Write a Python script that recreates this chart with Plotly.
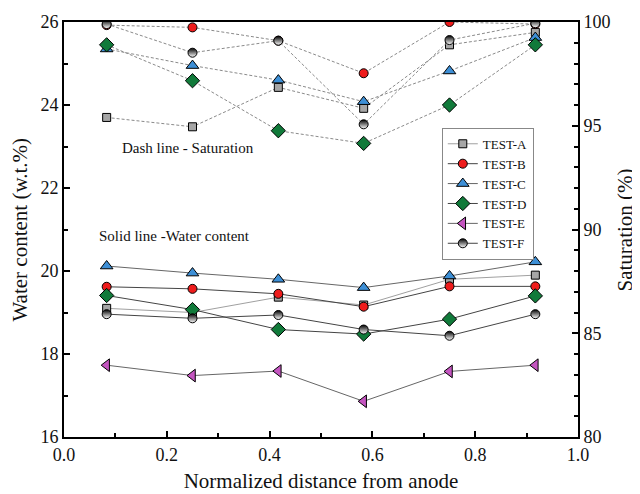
import plotly.graph_objects as go

# Normalized distance from anode
distance = [0.083, 0.25, 0.417, 0.583, 0.75, 0.917]

tests = ["TEST-A", "TEST-B", "TEST-C", "TEST-D", "TEST-E", "TEST-F"]

# Water content (w.t.%) - solid lines
water_A = [19.10, 19.00, 19.37, 19.18, 19.80, 19.90]
water_B = [19.62, 19.57, 19.45, 19.14, 19.63, 19.63]
water_C = [20.12, 19.95, 19.80, 19.60, 19.88, 20.22]
water_D = [19.41, 19.07, 18.59, 18.48, 18.84, 19.40]
water_E = [17.73, 17.48, 17.59, 16.86, 17.58, 17.73]
water_F = [18.96, 18.86, 18.94, 18.59, 18.44, 18.96]

# Saturation (%) - dashed lines (TEST-E has none)
sat_A = [95.40, 94.95, 96.85, 95.84, 98.90, 99.50]
sat_B = [99.85, 99.74, 99.10, 97.53, 100.0, 99.90]
sat_C = [98.70, 97.90, 97.20, 96.16, 97.64, 99.25]
sat_D = [98.90, 97.17, 94.76, 94.15, 96.00, 98.90]
sat_F = [99.90, 98.52, 99.10, 95.07, 99.13, 99.94]

left_ticks = [16, 18, 20, 22, 24, 26]
right_ticks = [80, 85, 90, 95, 100]

water = [water_A, water_B, water_C, water_D, water_E, water_F]
sat = [sat_A, sat_B, sat_C, sat_D, None, sat_F]

styles = [
    dict(symbol="square", color="#a6a6a6", size=8, line="#a0a0a0", grad=None),
    dict(symbol="circle", color="#ee1c1c", size=9, line="#444444", grad=None),
    dict(symbol="triangle-up", color="#3d8fd6", size=11, line="#666666", grad=None),
    dict(symbol="diamond", color="#117a3a", size=11, line="#444444", grad=None),
    dict(symbol="triangle-left", color="#c455c0", size=11, line="#666666", grad=None),
    dict(symbol="circle", color="#000000", size=9, line="#444444", grad="#ffffff"),
]

FONT = "Liberation Serif, Times New Roman, serif"


def marker_for(st):
    m = dict(symbol=st["symbol"], color=st["color"], size=st["size"],
             line=dict(color="black", width=1))
    if st["grad"]:
        m["gradient"] = dict(type="vertical", color=st["grad"])
    return m


fig = go.Figure()

# saturation (dashed) on right axis
for name, s, st in zip(tests, sat, styles):
    if s is None:
        continue
    fig.add_trace(go.Scatter(
        x=distance, y=s, yaxis="y2", mode="lines+markers", showlegend=False,
        line=dict(color="#8a8a8a", width=1, dash="3px,2px"),
        marker=marker_for(st), name=name,
    ))

# water content (solid)
for name, w, st in zip(tests, water, styles):
    fig.add_trace(go.Scatter(
        x=distance, y=w, mode="lines+markers", name=name,
        line=dict(color=st["line"], width=1),
        marker=marker_for(st),
    ))

fig.add_annotation(x=0.109, y=0.696, xref="paper", yref="paper", xanchor="left",
                   yanchor="middle", text="Dash line - Saturation", showarrow=False,
                   font=dict(family=FONT, size=15, color="#111"))
fig.add_annotation(x=0.064, y=0.484, xref="paper", yref="paper", xanchor="left",
                   yanchor="middle", text="Solid line -Water content", showarrow=False,
                   font=dict(family=FONT, size=15, color="#111"))
# y axis titles
fig.add_annotation(x=-0.0875, y=0.5, xref="paper", yref="paper", xanchor="center",
                   yanchor="middle", text="Water content (w.t.%)", showarrow=False,
                   textangle=-90, font=dict(family=FONT, size=21, color="#111"))
fig.add_annotation(x=1.0914, y=0.5, xref="paper", yref="paper", xanchor="center",
                   yanchor="middle", text="Saturation (%)", showarrow=False,
                   textangle=-90, font=dict(family=FONT, size=21, color="#111"))

axis_common = dict(
    ticks="inside", ticklen=6, tickwidth=1.5, tickcolor="black",
    showline=True, linecolor="black", linewidth=2,
    showgrid=False, zeroline=False, automargin=False,
    tickfont=dict(family=FONT, size=18, color="#111"),
)

fig.update_layout(
    width=632, height=486,
    margin=dict(l=56, r=62, t=14, b=57, autoexpand=False),
    paper_bgcolor="white", plot_bgcolor="white",
    font=dict(family=FONT, size=18, color="#111"),
    xaxis=dict(
        range=[0, 1], dtick=0.2, tick0=0, tickformat=".1f", mirror=True,
        minor=dict(dtick=0.1, ticks="inside", ticklen=4, tickcolor="black", showgrid=False),
        title=dict(text="Normalized distance from anode",
                   font=dict(family=FONT, size=21, color="#111"), standoff=10),
        **axis_common,
    ),
    yaxis=dict(
        range=[16, 26], tickvals=left_ticks,
        minor=dict(dtick=1, ticks="inside", ticklen=4, tickcolor="black", showgrid=False),
        **axis_common,
    ),
    yaxis2=dict(
        range=[80, 100], tickvals=right_ticks, overlaying="y", side="right",
        minor=dict(dtick=1, ticks="inside", ticklen=4, tickcolor="black", showgrid=False),
        **axis_common,
    ),
    legend=dict(
        x=0.735, y=0.745, xanchor="left", yanchor="top",
        bgcolor="white", bordercolor="#888888", borderwidth=1,
        font=dict(family=FONT, size=13, color="#111"),
        itemwidth=30, tracegroupgap=0,
    ),
    showlegend=True,
)

fig.write_html("out.html")
